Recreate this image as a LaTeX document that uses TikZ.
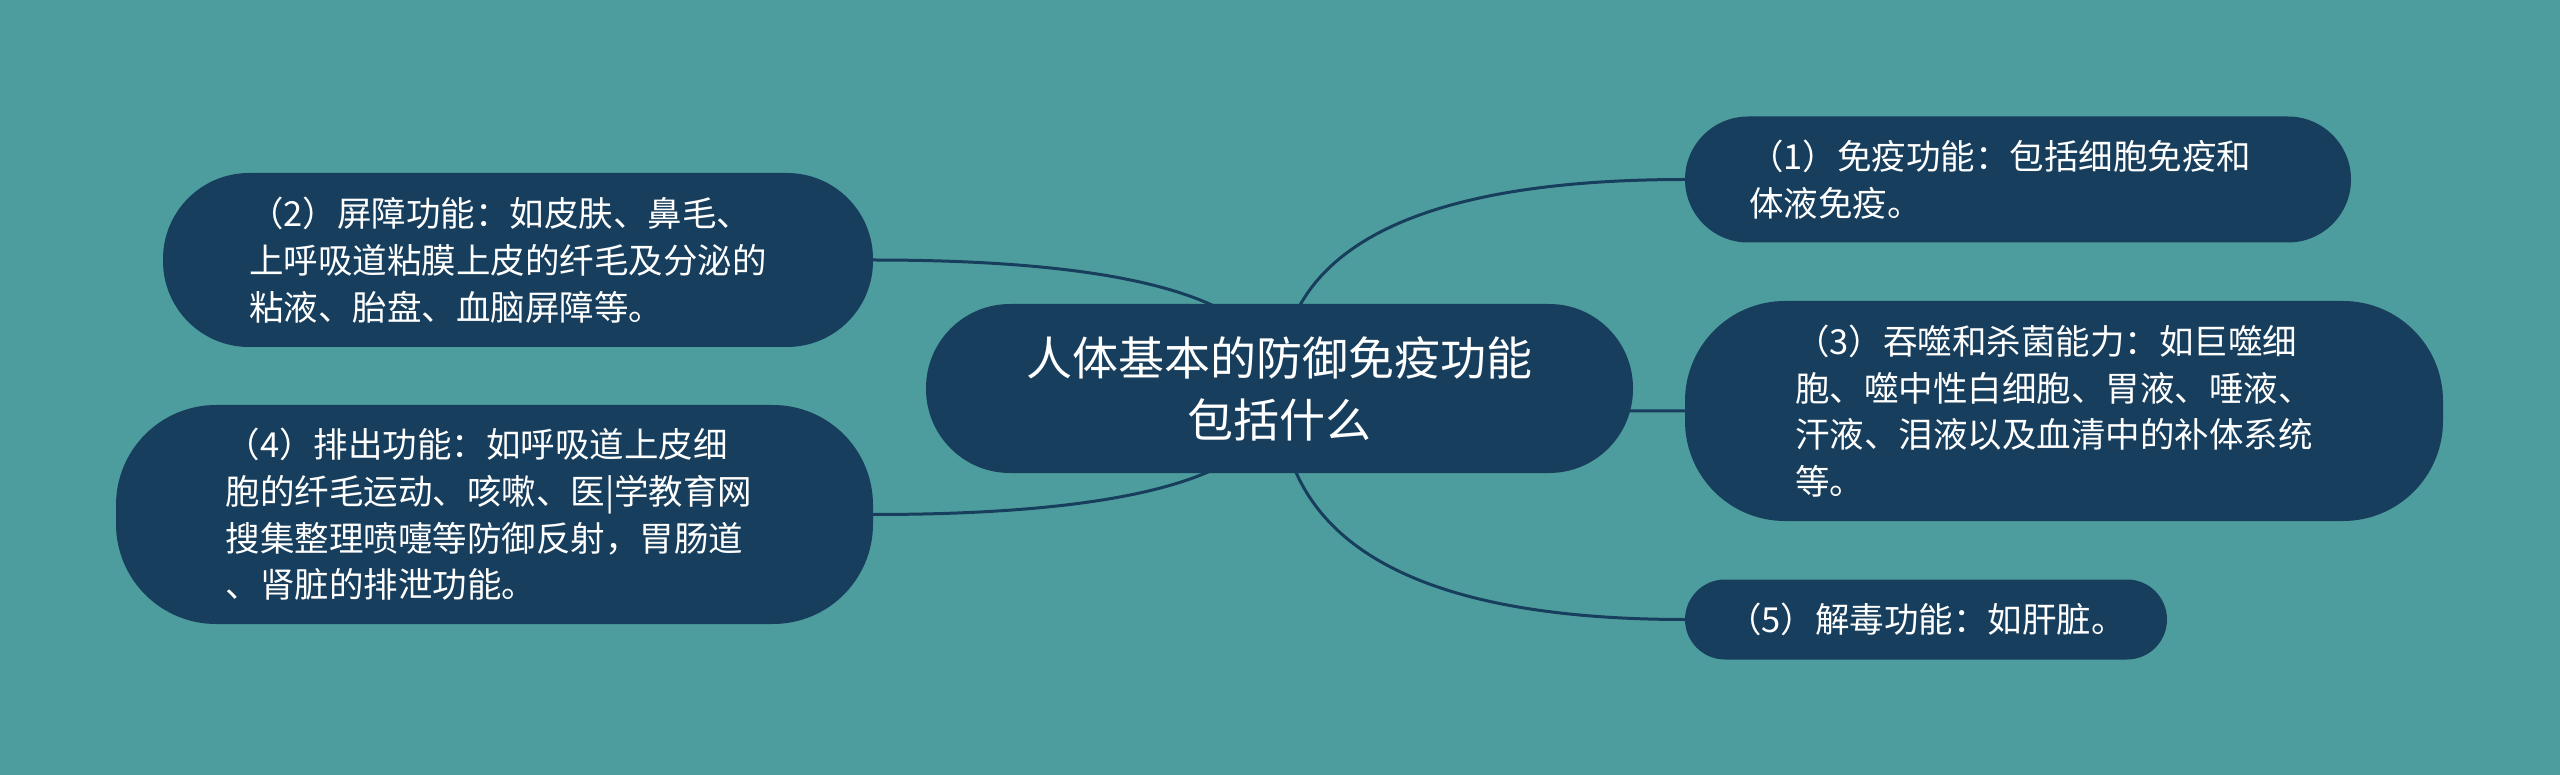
\documentclass[tikz,border=0pt]{standalone}
\usepackage{fontspec}
\setmainfont{Noto Sans CJK SC}
\usetikzlibrary{calc,backgrounds}
\definecolor{bgteal}{RGB}{78,157,158}
\definecolor{topicblue}{RGB}{23,62,92}
\tikzset{
  topic/.style={fill=topicblue, text=white, rounded corners=#1, inner ysep=0pt, align=left,
    font=\fontsize{34.5}{46.7}\selectfont},
  branch/.style={draw=topicblue, line width=3pt}
}

\begin{document}
\begin{tikzpicture}[x=1pt,y=-1pt]
\useasboundingbox (0,0) rectangle (2560,775);
% central topic
\node [topic=84pt, align=center, minimum width=707pt, minimum height=169pt,
  font=\fontsize{46}{62}\selectfont] (root) at (1279.5,388.5) {人体基本的防御免疫功能\\包括什么};
% right side
\node [topic=63pt, text width=538pt, inner xsep=64pt, minimum height=126pt] (immune) at (2018,179.5)
  {（1）免疫功能：包括细胞免疫和\\体液免疫。};
\node [topic=100pt, text width=538pt, inner xsep=110pt, minimum height=220pt] (phago) at (2064,411)
  {（3）吞噬和杀菌能力：如巨噬细\\胞、噬中性白细胞、胃液、唾液、\\汗液、泪液以及血清中的补体系统\\等。};
\node [topic=40pt, text width=398pt, inner xsep=42pt, minimum height=80pt] (detox) at (1926,619.5)
  {（5）解毒功能：如肝脏。};
% left side
\node [topic=86pt, text width=538pt, inner xsep=86pt, minimum height=174pt] (barrier) at (518,260)
  {（2）屏障功能：如皮肤、鼻毛、\\上呼吸道粘膜上皮的纤毛及分泌的\\粘液、胎盘、血脑屏障等。};
\node [topic=100pt, text width=538pt, inner xsep=109.5pt, minimum height=219pt] (excrete) at (494.5,514.5)
  {（4）排出功能：如呼吸道上皮细\\胞的纤毛运动、咳嗽、医|学教育网\\搜集整理喷嚏等防御反射，胃肠道\\、肾脏的排泄功能。};

\begin{scope}[on background layer]
\fill [bgteal] (0,0) rectangle (2560,775);
% branches
\draw [branch] (root.center) .. controls ($(root.center)!2/3!(root.center|-immune.west)$)
  and ($(immune.west)!2/3!(root.center|-immune.west)$) .. (immune.west);
\draw [branch] (root.center) .. controls ($(root.center)!2/3!(root.center|-phago.west)$)
  and ($(phago.west)!2/3!(root.center|-phago.west)$) .. (phago.west);
\draw [branch] (root.center) .. controls ($(root.center)!2/3!(root.center|-detox.west)$)
  and ($(detox.west)!2/3!(root.center|-detox.west)$) .. (detox.west);
\draw [branch] (root.center) .. controls ($(root.center)!2/3!(root.center|-barrier.east)$)
  and ($(barrier.east)!2/3!(root.center|-barrier.east)$) .. (barrier.east);
\draw [branch] (root.center) .. controls ($(root.center)!2/3!(root.center|-excrete.east)$)
  and ($(excrete.east)!2/3!(root.center|-excrete.east)$) .. (excrete.east);
\end{scope}
\end{tikzpicture}
\end{document}
